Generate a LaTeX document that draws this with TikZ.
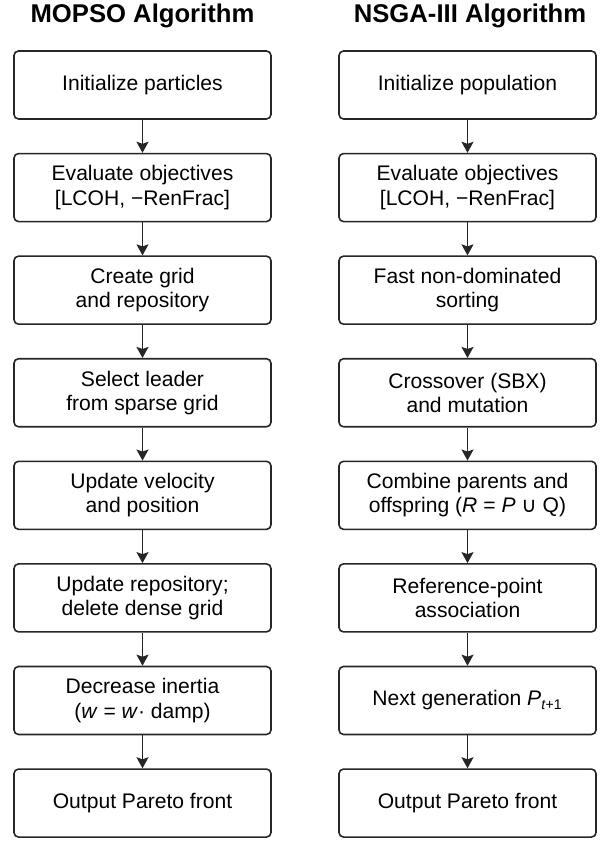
\documentclass[tikz,border=0pt]{standalone}
\usepackage{fontspec}
\setmainfont{Liberation Sans}
\newfontfamily\symfont{DejaVu Sans}
\usetikzlibrary{positioning, arrows.meta}

\begin{document}
\begin{tikzpicture}[
    stepbox/.style={draw=black!85, line width=0.9pt, rounded corners=0.09cm,
        minimum width=5.14cm, minimum height=1.36cm, align=center, inner sep=2pt,
        font=\fontsize{12}{13.8}\selectfont},
    flowarrow/.style={-{Stealth[length=2.2mm, width=2.4mm, inset=0.4mm]}, line width=0.7pt, black!85},
    coltitle/.style={font=\fontsize{14.6}{16}\selectfont\bfseries},
    node distance=0.66cm
]
    \useasboundingbox (0,0) rectangle (12.12,16.82);

    % 1. Cột trái - MOPSO
    \node[coltitle] (mtitle) at (2.85,16.5) {MOPSO Algorithm};
    \node[stepbox] (m1) at (2.85,15.12) {Initialize particles};
    \node[stepbox, below=of m1] (m2) {Evaluate objectives\\ {[}LCOH, −RenFrac{]}};
    \node[stepbox, below=of m2] (m3) {Create grid\\ and repository};
    \node[stepbox, below=of m3] (m4) {Select leader\\ from sparse grid};
    \node[stepbox, below=of m4] (m5) {Update velocity\\ and position};
    \node[stepbox, below=of m5] (m6) {Update repository;\\ delete dense grid};
    \node[stepbox, below=of m6] (m7) {Decrease inertia\\ (\textit{w} = \textit{w}· damp)};
    \node[stepbox, below=of m7] (m8) {Output Pareto front};

    % 2. Cột phải - NSGA-III
    \node[coltitle] (ntitle) at (9.4,16.5) {NSGA-III Algorithm};
    \node[stepbox] (n1) at (9.35,15.12) {Initialize population};
    \node[stepbox, below=of n1] (n2) {Evaluate objectives\\ {[}LCOH, −RenFrac{]}};
    \node[stepbox, below=of n2] (n3) {Fast non-dominated\\ sorting};
    \node[stepbox, below=of n3] (n4) {Crossover (SBX)\\ and mutation};
    \node[stepbox, below=of n4] (n5) {Combine parents and\\ offspring (\textit{R} = \textit{P} {\symfont ∪} Q)};
    \node[stepbox, below=of n5] (n6) {Reference-point\\ association};
    \node[stepbox, below=of n6] (n7) {Next generation \textit{P}\textsubscript{\textit{t}+1}};
    \node[stepbox, below=of n7] (n8) {Output Pareto front};

    % 3. Mũi tên nối các bước
    \foreach \i [evaluate=\i as \j using int(\i+1)] in {1,...,7} {
        \draw[flowarrow] (m\i) -- (m\j);
        \draw[flowarrow] (n\i) -- (n\j);
    }
\end{tikzpicture}
\end{document}
